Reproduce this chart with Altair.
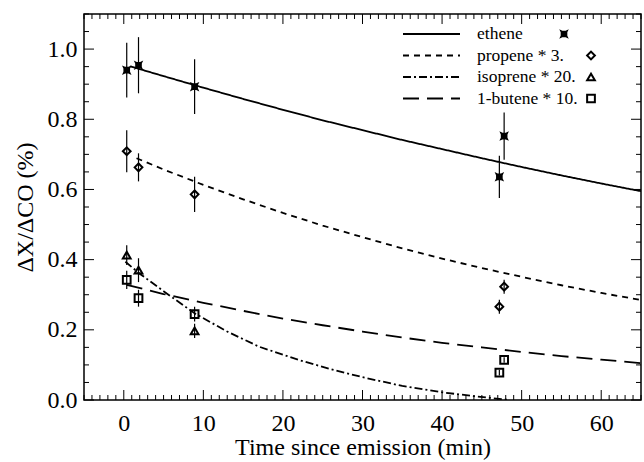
import altair as alt
import pandas as pd

# ---------------- data ----------------
series_names = ["ethene", "propene * 3.", "isoprene * 20.", "1-butene * 10."]

pt_time = [0.37, 1.85, 8.9, 47.2, 47.8]
ethene_val = [0.940, 0.954, 0.893, 0.636, 0.752]
ethene_err = [0.078, 0.080, 0.078, 0.060, 0.067]
propene_val = [0.709, 0.663, 0.586, 0.266, 0.323]
propene_err = [0.060, 0.040, 0.050, 0.020, 0.020]
isoprene_time = [0.37, 1.85, 8.9]
isoprene_val = [0.413, 0.370, 0.197]
isoprene_err = [0.028, 0.034, 0.020]
butene_val = [0.342, 0.290, 0.245, 0.078, 0.114]
butene_err = [0.026, 0.024, 0.021, 0.008, 0.008]

# curves
ethene_fit_t = [0.8, 5, 10, 15, 20, 25, 30, 35, 40, 45, 50, 55, 60, 65]
ethene_fit_v = [0.951, 0.923, 0.890, 0.858, 0.827, 0.797, 0.769, 0.741, 0.715, 0.689, 0.664, 0.640, 0.617, 0.595]
propene_fit_t = [1.6, 5, 10, 15, 20, 25, 30, 35, 40, 45, 50, 55, 60, 65]
propene_fit_v = [0.689, 0.657, 0.613, 0.572, 0.533, 0.497, 0.464, 0.432, 0.403, 0.376, 0.351, 0.327, 0.305, 0.285]
isoprene_fit_t = [0.2, 2, 5, 8.9, 13, 17, 22, 26, 30, 35, 40, 44, 48.5]
isoprene_fit_v = [0.394, 0.360, 0.310, 0.247, 0.195, 0.152, 0.114, 0.088, 0.065, 0.040, 0.022, 0.011, 0.0]
butene_fit_t = [0.37, 5, 10, 15, 20, 25, 30, 35, 40, 45, 50, 55, 60, 65]
butene_fit_v = [0.328, 0.302, 0.277, 0.254, 0.232, 0.213, 0.195, 0.178, 0.163, 0.150, 0.137, 0.125, 0.115, 0.105]

x_major = [0, 10, 20, 30, 40, 50, 60]
x_minor = [v for v in range(-5, 66) if v % 10 != 0]
y_major = [0.0, 0.2, 0.4, 0.6, 0.8, 1.0]
y_minor = [round(0.05 * i, 2) for i in range(0, 23) if i % 4 != 0]

# ---------------- tables ----------------
rows = []
for name, ts, vs, es in [
    (series_names[0], pt_time, ethene_val, ethene_err),
    (series_names[1], pt_time, propene_val, propene_err),
    (series_names[2], isoprene_time, isoprene_val, isoprene_err),
    (series_names[3], pt_time, butene_val, butene_err),
]:
    for t, v, e in zip(ts, vs, es):
        rows.append({"series": name, "t": t, "v": v, "lo": v - e, "hi": v + e})
pts = pd.DataFrame(rows)

lrows = []
for name, ts, vs in [
    (series_names[0], ethene_fit_t, ethene_fit_v),
    (series_names[1], propene_fit_t, propene_fit_v),
    (series_names[2], isoprene_fit_t, isoprene_fit_v),
    (series_names[3], butene_fit_t, butene_fit_v),
]:
    for t, v in zip(ts, vs):
        lrows.append({"series": name, "t": t, "v": v})
fits = pd.DataFrame(lrows)

W, H = 557, 386
FONT = "Liberation Serif, Times New Roman, Times, serif"
ETH_SHAPE = ("M-1,-1L-0.35,-0.7L0.35,-0.7L1,-1L0.7,-0.35L0.7,0.35L1,1L0.35,0.7"
             "L-0.35,0.7L-1,1L-0.7,0.35L-0.7,-0.35Z")
dashes = [[1, 0], [6, 5], [8, 3, 2, 3], [16, 8]]
shapes = [ETH_SHAPE, "diamond", "triangle-up", "square"]

axis_style = dict(labelFont=FONT, titleFont=FONT, labelFontSize=24, titleFontSize=24,
                  labelColor="black", titleColor="black", titleFontWeight="normal",
                  grid=False, domain=False, ticks=False, tickSize=0)

xs = alt.Scale(domain=[-5, 65], nice=False, zero=False)
ys = alt.Scale(domain=[0, 1.1], nice=False, zero=False)
ax_x = alt.Axis(title="Time since emission (min)", values=x_major, format="d",
                labelPadding=11, titlePadding=0, **axis_style)
ax_y = alt.Axis(title="ΔX/ΔCO (%)", values=y_major, format=".1f",
                labelPadding=7, titlePadding=10, **axis_style)


def X(field):
    return alt.X(field, scale=xs, axis=ax_x, title="Time since emission (min)")


def Y(field):
    return alt.Y(field, scale=ys, axis=ax_y, title="ΔX/ΔCO (%)")


err = alt.Chart(pts).mark_rule(color="black", strokeWidth=1.2).encode(
    x=X("t:Q"), y=Y("lo:Q"), y2="hi:Q",
)

lines = alt.Chart(fits).mark_line(color="black", strokeWidth=1.8, clip=True).encode(
    x=X("t:Q"), y=Y("v:Q"),
    strokeDash=alt.StrokeDash("series:N", scale=alt.Scale(domain=series_names, range=dashes), legend=None),
    detail="series:N",
)

eth_pts = alt.Chart(pts).transform_filter(alt.datum.series == series_names[0]).mark_point(
    shape=ETH_SHAPE, filled=True, color="black", size=90, opacity=1
).encode(x=X("t:Q"), y=Y("v:Q"))

open_pts = alt.Chart(pts).transform_filter(alt.datum.series != series_names[0]).mark_point(
    filled=False, color="black", strokeWidth=2, size=60, opacity=1
).encode(
    x=X("t:Q"), y=Y("v:Q"),
    shape=alt.Shape("series:N", scale=alt.Scale(domain=series_names[1:], range=shapes[1:]), legend=None),
)


# inward tick marks on all four sides
def xticks(vals, y0, y1):
    return alt.Chart(pd.DataFrame({"t": vals})).mark_rule(color="black", strokeWidth=1).encode(
        x=X("t:Q"), y=alt.value(y0), y2=alt.value(y1))


def yticks(vals, x0, x1):
    return alt.Chart(pd.DataFrame({"v": vals})).mark_rule(color="black", strokeWidth=1).encode(
        y=Y("v:Q"), x=alt.value(x0), x2=alt.value(x1))


ticks = [
    xticks(x_major, H, H - 10), xticks(x_minor, H, H - 5),
    xticks(x_major, 0, 10), xticks(x_minor, 0, 5),
    yticks(y_major, 0, 10), yticks(y_minor, 0, 5),
    yticks(y_major, W, W - 10), yticks(y_minor, W, W - 5),
]

# legend (top right, inside the frame)
one = pd.DataFrame({"k": [0]})
leg_rows_y = [20, 41.5, 63, 84.5]
legend_layers = []
for i, name in enumerate(series_names):
    yy = leg_rows_y[i]
    legend_layers.append(
        alt.Chart(one).mark_rule(color="black", strokeWidth=1.8, strokeDash=dashes[i]).encode(
            x=alt.value(319), x2=alt.value(376), y=alt.value(yy)))
    legend_layers.append(
        alt.Chart(one).mark_text(text=name, font=FONT, fontSize=17.5, align="left",
                                 baseline="middle", color="black").encode(
            x=alt.value(393), y=alt.value(yy)))
    mx = 480 if i == 0 else 507
    if i == 0:
        legend_layers.append(
            alt.Chart(one).mark_point(shape=ETH_SHAPE, filled=True, color="black", size=90, opacity=1).encode(
                x=alt.value(mx), y=alt.value(yy)))
    else:
        legend_layers.append(
            alt.Chart(one).mark_point(shape=shapes[i], filled=False, color="black", strokeWidth=2,
                                      size=60, opacity=1).encode(
                x=alt.value(mx), y=alt.value(yy)))

chart = alt.layer(err, lines, eth_pts, open_pts, *ticks, *legend_layers).properties(
    width=W, height=H, autosize="none",
    padding={"left": 84, "top": 14, "right": 3, "bottom": 62},
    background="white",
).configure_view(stroke="black", strokeWidth=1.5)

chart.save("out.html", embed_options={"renderer": "svg", "actions": False})
